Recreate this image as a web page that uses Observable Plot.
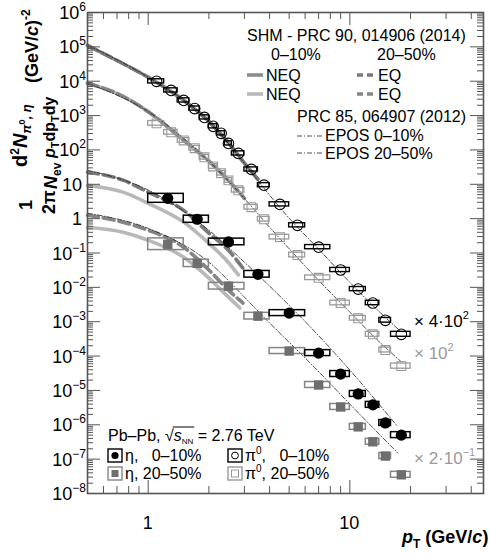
<!DOCTYPE html>
<html><head><meta charset="utf-8">
<script src="https://cdn.jsdelivr.net/npm/d3@7"></script>
<script src="https://cdn.jsdelivr.net/npm/@observablehq/plot@0.6"></script>
<style>
body{margin:0;background:#fff;}
svg{font-family:"Liberation Sans",Arial,Helvetica,sans-serif;}
</style>
</head><body><div id="chart"></div>
<script>
// ---------------- data (values as plotted, already scaled) ----------------
// pi0 bins
const pi0Pt  = [1.1,1.3,1.5,1.7,1.9,2.1,2.3,2.5,2.8,3.25,3.75,4.5,5.5,7,9,11,13,15,18];
const pi0Lo  = [1.0,1.2,1.4,1.6,1.8,2.0,2.2,2.4,2.6,3.0,3.5,4.0,5.0,6.0,8.0,10,12,14,16];
const pi0Hi  = [1.2,1.4,1.6,1.8,2.0,2.2,2.4,2.6,3.0,3.5,4.0,5.0,6.0,8.0,10,12,14,16,20];
// pi0 0-10% (x 4*10^2)
const pi0Y010  = [9.9e3,5.4e3,2.76e3,1.6e3,885,487,304,155,79,27,9.4,2.6,0.64,0.148,0.032,8.9e-3,3.5e-3,1.1e-3,4.3e-4];
const pi0Sys010 = [0.15,0.15,0.15,0.15,0.15,0.15,0.15,0.15,0.15,0.15,0.15,0.15,0.15,0.15,0.15,0.15,0.16,0.17,0.18];
// pi0 20-50% (x 10^2)
const pi0Y2050 = [593,326,189,112,61,33,21,13,6.7,2.15,0.96,0.29,0.087,0.019,3.5e-3,1.26e-3,4.3e-4,1.5e-4,5.1e-5];
const pi0Sys2050 = [0.17,0.17,0.17,0.17,0.17,0.17,0.17,0.17,0.17,0.17,0.17,0.17,0.17,0.17,0.17,0.17,0.18,0.18,0.19];
// eta bins
const etaPt = [1.25,1.75,2.5,3.5,5,7,9,11,13,15,18];
const etaLo = [1.0,1.5,2.0,3.0,4.0,6.0,8.0,10,12,14,16];
const etaHi = [1.5,2.0,3.0,4.0,6.0,8.0,10,12,14,16,20];
// eta 0-10%
const etaY010  = [3.9,0.96,0.21,0.024,1.78e-3,1.22e-4,3.0e-5,7.9e-6,3.8e-6,1.13e-6,5.0e-7];
const etaSys010 = [0.35,0.27,0.25,0.25,0.22,0.22,0.22,0.22,0.22,0.22,0.22];
// eta 20-50% (x 2*10^-1)
const etaY2050 = [0.18,0.050,0.0108,1.45e-3,1.4e-4,1.44e-5,3.3e-6,8.7e-7,3.2e-7,1.23e-7,3.5e-8];
const etaSys2050 = [0.48,0.28,0.25,0.25,0.22,0.22,0.22,0.22,0.22,0.22,0.22];

// SHM model curves
const pi0ShmPt010 = [0.5,0.7,1.0,1.5,2.0,2.5,3.0,3.5];
const pi0Shm010   = [1.1e5,4.0e4,1.3e4,2.76e3,670,160,41,14];
const pi0ShmPt2050 = [0.5,0.7,1.0,1.5,2.0,2.5,3.0];
const pi0Shm2050   = [8.7e3,4.4e3,1.3e3,189,47,13,3.9];
const etaEqPt010  = [0.5,0.75,1.0,1.5,2.0,2.5,2.95];
const etaEq010    = [22.4,13.2,5.9,1.74,0.38,0.12,0.036];
const etaNeqPt010 = [0.5,0.75,1.0,1.5,2.0,2.5,2.8];
const etaNeq010   = [9.3,5.9,2.8,0.79,0.19,0.053,0.023];
const etaEqPt2050  = [0.5,0.75,1.0,1.5,2.0,2.5,2.95];
const etaEq2050    = [1.26,0.785,0.46,0.147,0.032,8.3e-3,3.5e-3];
const etaNeqPt2050 = [0.5,0.75,1.0,1.5,2.0,2.5,2.85];
const etaNeq2050   = [0.56,0.40,0.235,0.075,0.0186,5.2e-3,2.5e-3];
// EPOS curves
const pi0EposPt   = [0.5,1,2,3,4,5,7,10,14,18];
const pi0Epos010  = [1.1e5,1.3e4,670,41,4.8,1.03,0.13,0.014,1.95e-3,5e-4];
const pi0Epos2050 = [8.7e3,1.3e3,47,3.9,0.56,0.133,0.016,1.9e-3,2.6e-4,6.8e-5];
const etaEposPt010 = [0.5,1,2,3,4.7,6.8,10,17.3];
const etaEpos010   = [25.7,6.8,0.46,0.054,4.3e-3,4.7e-4,3.9e-5,8.7e-7];
const etaEposPt2050 = [0.5,1,2,3,3.75,6.8,10,17.3];
const etaEpos2050   = [1.44,0.52,0.054,5.2e-3,1.35e-3,4.2e-5,4e-6,1.5e-7];

// axis ticks
const yMajor = d3.range(-8, 7).map(e => +(`1e${e}`));
const yMinor = d3.range(-8, 6).flatMap(e => d3.range(2, 10).map(k => +(`${k}e${e}`)));
const xMajor = [1, 10];
const xMinor = [0.5,0.6,0.7,0.8,0.9,2,3,4,5,6,7,8,9,20,30,40];
const xLabels = [1, 10];

// ---------------- layout ----------------
const W = 489, H = 554, mL = 87, mT = 12, mR = 6, mB = 61;
const pw = W - mL - mR, ph = H - mT - mB;
const axisCol = "#555";
const cBlack = "#000", cGrayMark = "#9a9a9a", cEtaGray = "#6e6e6e", cEtaBox = "#858585";
const cNeq1 = "#8e8e8e", cNeq2 = "#b8b8b8", cEq = "#7a7a7a", cEq2 = "#858585";

const rows = (pt, lo, hi, y, sys) => pt.map((p, i) => ({pt: p, lo: lo[i], hi: hi[i], y: y[i], y1: y[i] / (1 + sys[i]), y2: y[i] * (1 + sys[i])}));
const curve = (pt, v) => pt.map((p, i) => ({pt: p, v: v[i]}));

const pi0A = rows(pi0Pt, pi0Lo, pi0Hi, pi0Y010, pi0Sys010);
const pi0B = rows(pi0Pt, pi0Lo, pi0Hi, pi0Y2050, pi0Sys2050);
const etaA = rows(etaPt, etaLo, etaHi, etaY010, etaSys010);
const etaB = rows(etaPt, etaLo, etaHi, etaY2050, etaSys2050);

const thick = 3.6;
const line = (data, stroke, extra = {}) => Plot.line(data, {x: "pt", y: "v", curve: "monotone-x", stroke, strokeWidth: thick, ...extra});
const epos = (data) => Plot.line(data, {x: "pt", y: "v", curve: "monotone-x", stroke: "#222", strokeWidth: 0.8, strokeDasharray: "5,2,1,2"});

const plot = Plot.plot({
  width: W, height: H, marginLeft: mL, marginTop: mT, marginRight: mR, marginBottom: mB,
  x: {type: "log", domain: [0.5, 46], axis: null},
  y: {type: "log", domain: [1e-8, 1e6], axis: null},
  style: {background: "white", fontFamily: "Liberation Sans, Arial, sans-serif"},
  marks: [
    // SHM curves
    line(curve(etaNeqPt2050, etaNeq2050), cNeq2),
    line(curve(etaNeqPt010, etaNeq010), cNeq2),
    line(curve(etaEqPt2050, etaEq2050), cEq2, {strokeDasharray: "11,5"}),
    line(curve(etaEqPt010, etaEq010), cEq, {strokeDasharray: "11,5"}),
    line(curve(pi0ShmPt2050, pi0Shm2050), cNeq2),
    line(curve(pi0ShmPt2050, pi0Shm2050), cEq2, {strokeDasharray: "11,5"}),
    line(curve(pi0ShmPt010, pi0Shm010), cNeq1),
    line(curve(pi0ShmPt010, pi0Shm010), cEq, {strokeDasharray: "11,5"}),
    // EPOS
    epos(curve(pi0EposPt, pi0Epos010)),
    epos(curve(pi0EposPt, pi0Epos2050)),
    epos(curve(etaEposPt010, etaEpos010)),
    epos(curve(etaEposPt2050, etaEpos2050)),
    // systematic boxes
    Plot.rect(pi0B, {x1: "lo", x2: "hi", y1: "y1", y2: "y2", fill: "none", stroke: cGrayMark, strokeWidth: 1.3}),
    Plot.rect(pi0A, {x1: "lo", x2: "hi", y1: "y1", y2: "y2", fill: "none", stroke: cBlack, strokeWidth: 1.4}),
    Plot.rect(etaB, {x1: "lo", x2: "hi", y1: "y1", y2: "y2", fill: "none", stroke: cEtaBox, strokeWidth: 1.5}),
    Plot.rect(etaA, {x1: "lo", x2: "hi", y1: "y1", y2: "y2", fill: "none", stroke: cBlack, strokeWidth: 1.5}),
    // markers
    Plot.dot(pi0B, {x: "pt", y: "y", symbol: "square", r: 5, stroke: cGrayMark, fill: "none", strokeWidth: 1.1}),
    Plot.dot(pi0A, {x: "pt", y: "y", symbol: "circle", r: 5.3, stroke: cBlack, fill: "none", strokeWidth: 1.1}),
    Plot.dot(etaB, {x: "pt", y: "y", symbol: "square", r: 5.3, fill: cEtaGray, stroke: "none"}),
    Plot.dot(etaA, {x: "pt", y: "y", symbol: "circle", r: 5.6, fill: cBlack, stroke: "none"}),
    // ticks (inward, all four sides)
    Plot.tickY(yMajor, {y: d => d, insetRight: pw - 13, stroke: axisCol, strokeWidth: 1}),
    Plot.tickY(yMajor, {y: d => d, insetLeft: pw - 13, stroke: axisCol, strokeWidth: 1}),
    Plot.tickY(yMinor, {y: d => d, insetRight: pw - 6, stroke: axisCol, strokeWidth: 1}),
    Plot.tickY(yMinor, {y: d => d, insetLeft: pw - 6, stroke: axisCol, strokeWidth: 1}),
    Plot.tickX(xMajor, {x: d => d, insetTop: ph - 13, stroke: axisCol, strokeWidth: 1}),
    Plot.tickX(xMajor, {x: d => d, insetBottom: ph - 13, stroke: axisCol, strokeWidth: 1}),
    Plot.tickX(xMinor, {x: d => d, insetTop: ph - 7, stroke: axisCol, strokeWidth: 1}),
    Plot.tickX(xMinor, {x: d => d, insetBottom: ph - 7, stroke: axisCol, strokeWidth: 1}),
    Plot.frame({stroke: axisCol, strokeWidth: 1.6})
  ]
});
document.getElementById("chart").appendChild(plot);

// ---------------- text annotations ----------------
const svg = d3.select(plot);
const ys = plot.scale("y"), xs = plot.scale("x");

function addText(parent, x, y, parts, {size = 16, fill = "#000", anchor = "start", weight = "normal"} = {}) {
  const t = parent.append("text").attr("x", x).attr("y", y).attr("font-size", size)
    .attr("fill", fill).attr("text-anchor", anchor).attr("font-weight", weight)
    .style("white-space", "pre");
  for (const p of parts) {
    if (typeof p === "string") { t.append("tspan").text(p); continue; }
    const s = t.append("tspan").text(p.t);
    if (p.dy) s.attr("dy", p.dy);
    if (p.dx) s.attr("dx", p.dx);
    if (p.size) s.attr("font-size", p.size);
    if (p.italic) s.attr("font-style", "italic");
    if (p.fill) s.attr("fill", p.fill);
  }
  return t;
}

// y tick labels
for (const v of yMajor) {
  const e = Math.round(Math.log10(v));
  const y = ys.apply(v) + 7;
  if (e === 0) addText(svg, 82, y, ["1"], {size: 18, anchor: "end"});
  else if (e === 1) addText(svg, 82, y, ["10"], {size: 18, anchor: "end"});
  else addText(svg, 86, y, ["10", {t: e < 0 ? "\u2212" + (-e) : String(e), dy: -8, size: 12}], {size: 18, anchor: "end"});
}
// x tick labels
for (const v of xLabels) addText(svg, xs.apply(v), 529, [String(v)], {size: 18, anchor: "middle"});

// x title
addText(svg, 402, 543, [{t: "p", italic: true}, {t: "T", size: 12, dy: 5}, {t: " (GeV/", dy: -5}, {t: "c", italic: true}, ")"], {size: 18, weight: "bold"});

// y title (rotated)
const g = svg.append("g").attr("transform", "translate(0,554) rotate(-90)");
addText(g, 344, 32, ["1"], {size: 18, weight: "bold"});
addText(g, 340, 55, ["2\u03c0"], {size: 18, weight: "bold"});
addText(g, 365, 57, [{t: "N", italic: true}, {t: "ev", size: 12, dy: 4}], {size: 18, weight: "bold"});
addText(g, 387, 27, ["d", {t: "2", size: 12, dy: -8}, {t: "N", italic: true, dy: 8}, {t: "\u03c0", size: 13, dy: 4, italic: true}, {t: "0", size: 9, dy: -6}, {t: ", \u03b7", size: 13, dy: 6, italic: true}], {size: 20, weight: "bold"});
addText(g, 396, 55, [{t: "p", italic: true}, {t: "T", size: 11, dy: 4}, {t: "dp", dy: -4}, {t: "T", size: 11, dy: 4}, {t: "dy", dy: -4}], {size: 16, weight: "bold"});
addText(g, 471, 38, ["(GeV/", {t: "c", italic: true}, ")", {t: "-2", size: 12, dy: -8}], {size: 18, weight: "bold"});

// top-right legend
addText(svg, 247, 41, ["SHM - PRC 90, 014906 (2014)"], {size: 16});
addText(svg, 271, 60, ["0\u201310%"], {size: 16});
addText(svg, 377, 60, ["20\u201350%"], {size: 16});
const lg = (x1, x2, y, stroke, w, dash) => svg.append("line").attr("x1", x1).attr("x2", x2).attr("y1", y).attr("y2", y)
  .attr("stroke", stroke).attr("stroke-width", w).attr("stroke-dasharray", dash || null);
lg(247, 263, 75, cNeq1, thick);
addText(svg, 266, 81, ["NEQ"], {size: 16});
lg(357, 374, 75, cEq, thick, "6,4");
addText(svg, 378, 81, ["EQ"], {size: 16});
lg(247, 263, 94, cNeq2, thick);
addText(svg, 266, 100, ["NEQ"], {size: 16});
lg(357, 374, 94, cEq2, thick, "6,4");
addText(svg, 378, 100, ["EQ"], {size: 16});
addText(svg, 297, 122, ["PRC 85, 064907 (2012)"], {size: 16});
lg(297, 322, 136, "#222", 0.8, "5,2,1,2");
addText(svg, 325, 141, ["EPOS 0\u201310%"], {size: 16});
lg(297, 322, 153, "#222", 0.8, "5,2,1,2");
addText(svg, 325, 159, ["EPOS 20\u201350%"], {size: 16});

// scale factors
addText(svg, 414, 327, ["\u00d7 4\u00b710", {t: "2", size: 11, dy: -8}], {size: 17, fill: "#000"});
addText(svg, 414, 359, ["\u00d7 10", {t: "2", size: 11, dy: -8}], {size: 17, fill: "#9a9a9a"});
addText(svg, 414, 464, ["\u00d7 2\u00b710", {t: "\u22121", size: 11, dy: -8}], {size: 17, fill: "#9a9a9a"});

// bottom-left legend
const head = addText(svg, 108, 441, ["Pb\u2013Pb, \u221a", {t: "s", italic: true}, {t: "NN", size: 8, dy: 3}, {t: " = 2.76 TeV", dy: -3}], {size: 16});
try {
  const n = head.node();
  const a = n.getStartPositionOfChar(8), b = n.getEndPositionOfChar(10);
  svg.append("line").attr("x1", a.x - 1).attr("x2", b.x + 1).attr("y1", 427).attr("y2", 427).attr("stroke", "#000").attr("stroke-width", 1);
} catch (e) {}
function legBox(x, y, stroke) {
  svg.append("rect").attr("x", x).attr("y", y).attr("width", 14).attr("height", 13).attr("fill", "none").attr("stroke", stroke).attr("stroke-width", 1.4);
}
legBox(108, 449, "#000");
svg.append("circle").attr("cx", 115).attr("cy", 455.5).attr("r", 3.6).attr("fill", "#000");
addText(svg, 125, 461, ["\u03b7,   0\u201310%"], {size: 16});
legBox(108, 467, cEtaBox);
svg.append("rect").attr("x", 111.5).attr("y", 470).attr("width", 7).attr("height", 7).attr("fill", cEtaGray);
addText(svg, 125, 479, ["\u03b7, 20\u201350%"], {size: 16});
legBox(228, 449, "#000");
svg.append("circle").attr("cx", 235).attr("cy", 455.5).attr("r", 3.4).attr("fill", "none").attr("stroke", "#000").attr("stroke-width", 1);
addText(svg, 245, 461, ["\u03c0", {t: "0", size: 10, dy: -7}, {t: ",   0\u201310%", dy: 7}], {size: 16});
legBox(228, 467, cGrayMark);
svg.append("rect").attr("x", 231.5).attr("y", 470).attr("width", 7).attr("height", 7).attr("fill", "none").attr("stroke", cGrayMark).attr("stroke-width", 1);
addText(svg, 245, 479, ["\u03c0", {t: "0", size: 10, dy: -7}, {t: ", 20\u201350%", dy: 7}], {size: 16});
</script>
</body></html>
